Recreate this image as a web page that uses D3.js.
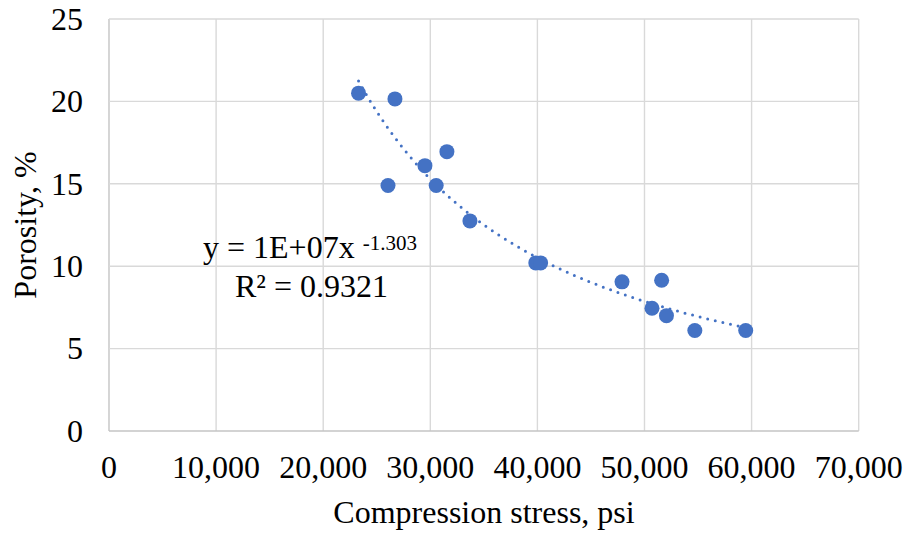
<!DOCTYPE html>
<html>
<head>
<meta charset="utf-8">
<script src="https://cdn.jsdelivr.net/npm/d3@7.9.0/dist/d3.min.js"></script>
<style>
  body { margin: 0; background: #fff; }
</style>
</head>
<body>
<svg id="chart" width="904" height="533" font-family="'Times New Roman', 'Liberation Serif', serif"></svg>
<script>
// compression stress (psi) and porosity (%)
const stress = [23300, 26700, 26050, 29500, 31550, 30550, 33700, 39850, 40300,
  47900, 51600, 50700, 52050, 54700, 59450];
const porosity = [20.5, 20.15, 14.9, 16.1, 16.95, 14.9, 12.75, 10.2, 10.2,
  9.05, 9.15, 7.45, 7.0, 6.1, 6.1];

const xTicks = [0, 10000, 20000, 30000, 40000, 50000, 60000, 70000];
const yTicks = [0, 5, 10, 15, 20, 25];

const svg = d3.select('#chart');
const plotLeft = 109, plotRight = 858.7, plotTop = 19, plotBottom = 431;

const x = d3.scaleLinear().domain([0, 70000]).range([plotLeft, plotRight]);
const y = d3.scaleLinear().domain([0, 25]).range([plotBottom, plotTop]);

// gridlines
svg.append('g')
  .selectAll('line')
  .data(xTicks)
  .join('line')
  .attr('x1', d => x(d)).attr('x2', d => x(d))
  .attr('y1', plotTop).attr('y2', plotBottom)
  .attr('stroke', d => d === 0 ? '#c4c4c4' : '#d9d9d9').attr('stroke-width', 1.4);

svg.append('g')
  .selectAll('line')
  .data(yTicks)
  .join('line')
  .attr('x1', plotLeft).attr('x2', plotRight)
  .attr('y1', d => y(d)).attr('y2', d => y(d))
  .attr('stroke', d => d === 0 ? '#c4c4c4' : '#d9d9d9').attr('stroke-width', 1.4);

// tick labels
const fmt = d3.format(',');
svg.append('g')
  .selectAll('text')
  .data(xTicks)
  .join('text')
  .attr('x', d => x(d)).attr('y', 478)
  .attr('text-anchor', 'middle')
  .attr('font-size', 32)
  .text(d => fmt(d));

svg.append('g')
  .selectAll('text')
  .data(yTicks)
  .join('text')
  .attr('x', 83).attr('y', d => y(d))
  .attr('dy', '0.34em')
  .attr('text-anchor', 'end')
  .attr('font-size', 32)
  .text(d => d);

// axis titles
svg.append('text')
  .attr('x', 484).attr('y', 523)
  .attr('text-anchor', 'middle')
  .attr('font-size', 32)
  .text('Compression stress, psi');

svg.append('text')
  .attr('transform', 'translate(36,225) rotate(-90)')
  .attr('text-anchor', 'middle')
  .attr('font-size', 32)
  .text('Porosity, %');

// power trendline fitted on log-log
const pts = stress.map((s, i) => [s, porosity[i]]);
const lx = pts.map(p => Math.log(p[0]));
const ly = pts.map(p => Math.log(p[1]));
const mx = d3.mean(lx), my = d3.mean(ly);
const b = d3.sum(lx, (v, i) => (v - mx) * (ly[i] - my)) / d3.sum(lx, v => (v - mx) ** 2);
const a = Math.exp(my - b * mx);

const xs = d3.range(d3.min(stress), d3.max(stress) + 1, 200);
const line = d3.line().x(d => x(d)).y(d => y(a * Math.pow(d, b)));

svg.append('path')
  .datum(xs)
  .attr('d', line)
  .attr('fill', 'none')
  .attr('stroke', '#4472c4')
  .attr('stroke-width', 3)
  .attr('stroke-linecap', 'round')
  .attr('stroke-dasharray', '0 7.8');

// points
svg.append('g')
  .selectAll('circle')
  .data(pts)
  .join('circle')
  .attr('cx', d => x(d[0]))
  .attr('cy', d => y(d[1]))
  .attr('r', 7.5)
  .attr('fill', '#4472c4');

// equation label
const eq = svg.append('text')
  .attr('x', 203).attr('y', 258)
  .attr('font-size', 32);
eq.append('tspan').text('y = 1E+07x ');
eq.append('tspan').attr('dy', -8).attr('font-size', 21).text('-1.303');

svg.append('text')
  .attr('x', 235).attr('y', 297)
  .attr('font-size', 32)
  .text('R² = 0.9321');
</script>
</body>
</html>
